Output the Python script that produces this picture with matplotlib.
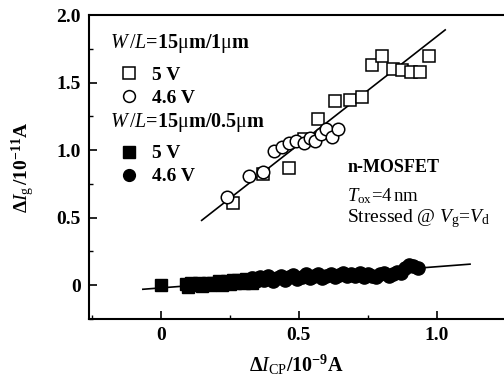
import matplotlib

matplotlib.use("Agg")
import matplotlib.pyplot as plt  # noqa: E402
from matplotlib.lines import Line2D  # noqa: E402
from matplotlib.ticker import MultipleLocator  # noqa: E402

plt.rcParams["font.family"] = ["Liberation Serif", "DejaVu Serif"]
plt.rcParams["mathtext.fontset"] = "custom"
plt.rcParams["mathtext.rm"] = "Liberation Serif"
plt.rcParams["mathtext.it"] = "Liberation Serif:italic"
plt.rcParams["mathtext.bf"] = "Liberation Serif:bold"

# W/L = 15um/1um, open markers
sq5_x = [0.26, 0.37, 0.465, 0.52, 0.57, 0.63, 0.685, 0.73, 0.765, 0.80,
         0.84, 0.875, 0.905, 0.94, 0.97]
sq5_y = [0.61, 0.82, 0.87, 1.08, 1.23, 1.36, 1.37, 1.39, 1.63, 1.70,
         1.60, 1.59, 1.575, 1.58, 1.70]
ci46_x = [0.24, 0.32, 0.37, 0.41, 0.44, 0.465, 0.49, 0.52, 0.54, 0.56,
          0.58, 0.60, 0.62, 0.64]
ci46_y = [0.65, 0.81, 0.84, 0.99, 1.02, 1.05, 1.07, 1.05, 1.09, 1.07,
          1.12, 1.16, 1.10, 1.16]

# W/L = 15um/0.5um, filled markers (dense band)
fsq5_x = [0.0, 0.09, 0.10, 0.11, 0.12, 0.13, 0.14, 0.15, 0.16, 0.17,
          0.18, 0.19, 0.20, 0.21, 0.22, 0.23, 0.24, 0.25, 0.26, 0.27,
          0.28, 0.29, 0.30, 0.31, 0.32, 0.33, 0.34, 0.35]
fsq5_y = [0.0, 0.01, -0.01, 0.02, 0.0, 0.01, 0.02, -0.005, 0.01, 0.02,
          0.0, 0.02, 0.01, 0.03, 0.0, 0.02, 0.03, 0.01, 0.035, 0.02,
          0.04, 0.025, 0.015, 0.045, 0.03, 0.02, 0.05, 0.035]
fci46_x = [0.33, 0.345, 0.36, 0.375, 0.39, 0.405, 0.42, 0.435, 0.45, 0.465,
           0.48, 0.495, 0.51, 0.525, 0.54, 0.555, 0.57, 0.585, 0.60, 0.615,
           0.63, 0.645, 0.66, 0.675, 0.69, 0.705, 0.72, 0.735, 0.75, 0.765,
           0.78, 0.795, 0.81, 0.825, 0.84, 0.855, 0.87, 0.885, 0.90, 0.915,
           0.93]
fci46_y = [0.05, 0.03, 0.06, 0.04, 0.065, 0.03, 0.05, 0.07, 0.04, 0.06,
           0.075, 0.045, 0.06, 0.08, 0.05, 0.065, 0.08, 0.055, 0.07, 0.085,
           0.06, 0.075, 0.09, 0.065, 0.08, 0.07, 0.09, 0.06, 0.08, 0.065,
           0.06, 0.08, 0.09, 0.07, 0.085, 0.10, 0.09, 0.13, 0.15, 0.14,
           0.13]

# fitted lines (endpoints)
fit_open_x = [0.148, 1.03]
fit_open_y = [0.48, 1.89]
fit_fill_x = [-0.065, 1.12]
fit_fill_y = [-0.03, 0.156]

fig = plt.figure(figsize=(5.04, 3.76), dpi=100)
ax = fig.add_axes([0.1766, 0.1516, 0.8234, 0.8084])

ax.plot(fit_open_x, fit_open_y, color="black", lw=1.2, zorder=2)
ax.plot(fit_fill_x, fit_fill_y, color="black", lw=1.2, zorder=2)

ax.plot(sq5_x, sq5_y, ls="none", marker="s", ms=8.5, mfc="white",
        mec="black", mew=1.1, zorder=3)
ax.plot(ci46_x, ci46_y, ls="none", marker="o", ms=9, mfc="white",
        mec="black", mew=1.1, zorder=3)
ax.plot(fsq5_x, fsq5_y, ls="none", marker="s", ms=9, color="black",
        zorder=3)
ax.plot(fci46_x, fci46_y, ls="none", marker="o", ms=9.5, color="black",
        zorder=3)

ax.set_xlim(-0.26, 1.243)
ax.set_ylim(-0.25, 2.0)
ax.spines["right"].set_visible(False)
for s in ("left", "bottom", "top"):
    ax.spines[s].set_linewidth(1.5)
ax.xaxis.set_minor_locator(MultipleLocator(0.25))
ax.yaxis.set_minor_locator(MultipleLocator(0.25))
ax.set_xticks([0, 0.5, 1.0])
ax.set_xticklabels(["0", "0.5", "1.0"])
ax.set_yticks([0, 0.5, 1.0, 1.5, 2.0])
ax.set_yticklabels(["0", "0.5", "1.0", "1.5", "2.0"])
ax.tick_params(which="major", direction="in", length=6, width=1.2,
               labelsize=14, pad=6)
ax.tick_params(which="minor", direction="in", length=3, width=1.0)
ax.tick_params(top=False, right=False, which="both")
for lab in ax.get_xticklabels() + ax.get_yticklabels():
    lab.set_fontweight("bold")

ax.set_xlabel(r"$\mathbf{\Delta}\mathit{I}_{\rm CP}\mathbf{/10^{-9}A}$",
              fontsize=14.5, labelpad=6)
ax.set_ylabel(r"$\mathbf{\Delta}\mathit{I}_{\rm g}\,\mathbf{/10^{-11}A}$",
              fontsize=14, labelpad=14)

# legend headings
ax.text(0.05, 0.908,
        r"$\mathit{W}\,/\mathit{L}$=15$\mathrm{\mu}$m/1$\mathrm{\mu}$m",
        transform=ax.transAxes, fontsize=14.5, fontweight="bold", va="center")
ax.text(0.05, 0.645,
        r"$\mathit{W}\,/\mathit{L}$=15$\mathrm{\mu}$m/0.5$\mathrm{\mu}$m",
        transform=ax.transAxes, fontsize=14.5, fontweight="bold", va="center")

h_sq = Line2D([], [], ls="none", marker="s", ms=8, mfc="white", mec="black", mew=1.1)
h_ci = Line2D([], [], ls="none", marker="o", ms=8.5, mfc="white", mec="black", mew=1.1)
h_fsq = Line2D([], [], ls="none", marker="s", ms=8, color="black")
h_fci = Line2D([], [], ls="none", marker="o", ms=8.5, color="black")

leg_kw = dict(frameon=False, prop={"size": 14, "weight": "bold"},
              handlelength=1.0, handletextpad=0.7, labelspacing=0.28,
              borderpad=0.0, borderaxespad=0.0, loc="upper left")
leg1 = ax.legend([h_sq, h_ci], ["5 V", "4.6 V"],
                 bbox_to_anchor=(0.072, 0.832), **leg_kw)
ax.add_artist(leg1)
ax.legend([h_fsq, h_fci], ["5 V", "4.6 V"],
          bbox_to_anchor=(0.072, 0.573), **leg_kw)

ax.text(0.622, 0.497, "n-MOSFET", transform=ax.transAxes, fontsize=13,
        fontweight="bold", va="center")
ax.text(0.622, 0.405, r"$\mathit{T}_{\rm ox}$=4$\,$nm", transform=ax.transAxes,
        fontsize=13.5, va="center")
ax.text(0.622, 0.332, r"Stressed @ $\mathit{V}_{\rm g}$=$\mathit{V}_{\rm d}$",
        transform=ax.transAxes, fontsize=14, va="center")

fig.savefig("out.png", dpi=100)
